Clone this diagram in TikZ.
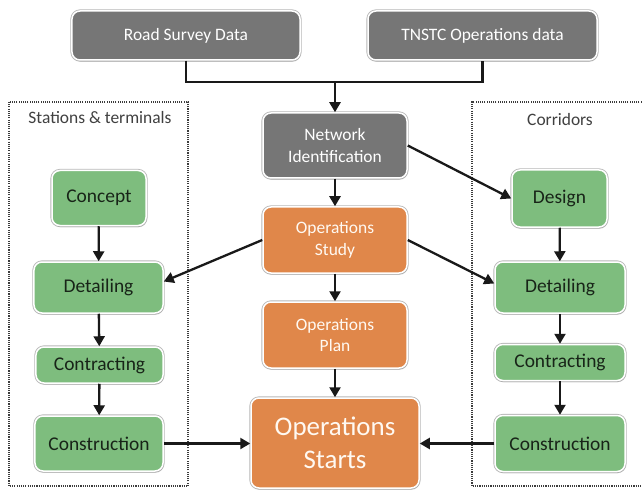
\documentclass[tikz,border=0pt]{standalone}
\usepackage{fontspec}
\setmainfont{Carlito}
\usetikzlibrary{arrows.meta,shadows,calc}
\definecolor{boxgray}{RGB}{118,118,118}
\definecolor{boxgreen}{RGB}{126,189,126}
\definecolor{boxorange}{RGB}{224,135,74}
\definecolor{greentext}{RGB}{24,36,24}
\definecolor{labeltext}{RGB}{64,64,64}
\definecolor{dotline}{RGB}{60,60,60}
\tikzset{
  basebox/.style={rectangle, rounded corners=8bp, draw=white, line width=1.5bp,
    preaction={draw=black!28, line width=3.2bp},
    drop shadow={opacity=0.22, shadow xshift=0.6bp, shadow yshift=-1.8bp},
    align=center, inner sep=2bp},
  graybox/.style={basebox, fill=boxgray, text=white, font=\fontsize{17.5}{21.5}\selectfont},
  greenbox/.style={basebox, fill=boxgreen, text=greentext, font=\fontsize{19.5}{23}\selectfont},
  orangebox/.style={basebox, fill=boxorange, text=white!95!orange, font=\fontsize{17.5}{21.5}\selectfont},
  bigorange/.style={basebox, fill=boxorange, text=white!95!orange, font=\fontsize{27}{33}\selectfont},
  conn/.style={line width=2.3bp, black!90, -{Triangle[length=10bp,width=11bp]}},
  plainconn/.style={line width=2.3bp, black!90},
  dotbox/.style={dotline, line width=1.4bp, dash pattern=on 1.1bp off 1.1bp},
  grouplabel/.style={text=labeltext, font=\fontsize{17.5}{21}\selectfont}
}
\begin{document}
\begin{tikzpicture}[x=1bp,y=-1bp]
\useasboundingbox (0,0) rectangle (642,490);
\fill[white] (0,0) rectangle (642,490);

% group frames
\draw[dotbox] (9,102) rectangle (188,486);
\draw[dotbox] (646,102) -- (472,102) -- (472,486) -- (646,486);
\node[grouplabel] (lblst) at (100,118) {Stations \& terminals};
\node[grouplabel] (lblcor) at (560,120) {Corridors};

% top inputs
\node[graybox, minimum width=228bp, minimum height=49bp] (road) at (186,35.5) {Road Survey Data};
\node[graybox, minimum width=229bp, minimum height=49bp] (tnstc) at (482.5,35.5) {TNSTC Operations data};

% centre column
\node[graybox, minimum width=144bp, minimum height=65bp] (net) at (335,145.5) {Network\\Identification};
\node[orangebox, minimum width=144bp, minimum height=66bp] (study) at (335,240) {Operations\\Study};
\node[orangebox, minimum width=144bp, minimum height=66bp] (plan) at (335,335) {Operations\\Plan};
\node[bigorange, minimum width=168bp, minimum height=90bp] (starts) at (335,443) {Operations\\Starts};

% left column
\node[greenbox, minimum width=94bp, minimum height=55bp] (concept) at (99,198) {Concept};
\node[greenbox, minimum width=129bp, minimum height=51bp] (detl) at (98.5,287.5) {Detailing};
\node[greenbox, minimum width=127bp, minimum height=36bp] (conl) at (99.5,365) {Contracting};
\node[greenbox, minimum width=128bp, minimum height=55bp] (consl) at (99,443.5) {Construction};

% right column
\node[greenbox, minimum width=95bp, minimum height=57bp] (design) at (559.5,198.5) {Design};
\node[greenbox, minimum width=130bp, minimum height=51bp] (detr) at (560,287.5) {Detailing};
\node[greenbox, minimum width=130bp, minimum height=36bp] (conr) at (560,362.5) {Contracting};
\node[greenbox, minimum width=130bp, minimum height=56bp] (consr) at (560,443.5) {Construction};

% connectors
\coordinate (join) at (335,82);
\draw[plainconn] (road.south) |- (join) -| (tnstc.south);
\draw[conn] (join) -- (net.north);
\draw[conn] (net) -- (study);
\draw[conn] (study) -- (plan);
\draw[conn] (plan) -- (starts);
\draw[conn] (net.east) -- (design.west);
\draw[conn] (study.west) -- ($(detl.east)+(0,-6)$);
\draw[conn] (study.east) -- ($(detr.west)+(0,-4)$);
\draw[conn] (concept) -- (detl);
\draw[conn] (detl) -- (conl);
\draw[conn] (conl) -- (consl);
\draw[conn] (design) -- (detr);
\draw[conn] (detr) -- (conr);
\draw[conn] (conr) -- (consr);
\draw[conn] (consl.east) -- (consl.east -| starts.west);
\draw[conn] (consr.west) -- (consr.west -| starts.east);
\end{tikzpicture}
\end{document}
